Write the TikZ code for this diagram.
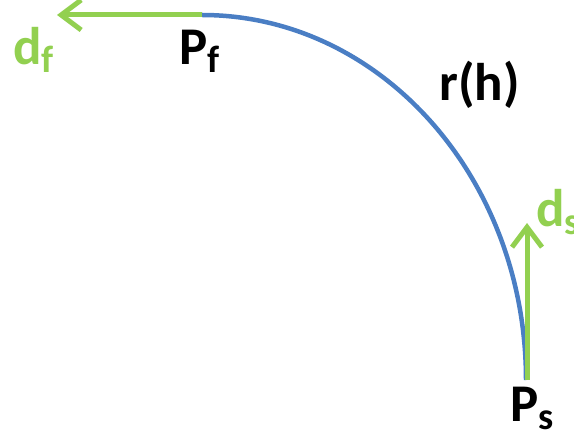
\documentclass[tikz,border=0pt]{standalone}
\usepackage{fontspec}
\setmainfont{Carlito}
\usetikzlibrary{arrows.meta}
\definecolor{arcblue}{HTML}{4A7EC4}
\definecolor{dirgreen}{HTML}{92D050}
\newcommand{\lowsub}[1]{\raisebox{-8bp}{\fontsize{38bp}{42bp}\selectfont #1}}

\begin{document}
\begin{tikzpicture}[x=1bp,y=-1bp]
\tikzset{
  pathline/.style={arcblue,line width=4.5bp},
  dirarrow/.style={-{Straight Barb[length=20bp,width=30bp,line width=5bp]},dirgreen,line width=5bp},
  lbl/.style={anchor=base west,inner sep=0pt,font=\fontsize{53bp}{58bp}\selectfont\bfseries}
}
\useasboundingbox (0,0) rectangle (574,441);
\coordinate (p_s) at (526,380);
\coordinate (p_f) at (202,15);
\coordinate (d_f_tip) at (57,15);
\coordinate (d_s_tip) at (527,223);
\node[lbl,text=dirgreen] (l_df) at (13,65) {d\lowsub{f}};
\node[lbl] (l_pf) at (179,65) {P\lowsub{f}};
\node[lbl] (l_rh) at (439,101) {r(h)};
\node[lbl,text=dirgreen] (l_ds) at (536,227) {d\lowsub{s}};
\node[lbl] (l_ps) at (510,421) {P\lowsub{s}};
\draw[pathline] (p_s) arc[start angle=0,end angle=-90,x radius=324,y radius=365];
\draw[dirarrow] (p_f) -- (d_f_tip);
\draw[dirarrow] ([xshift=1bp]p_s) -- (d_s_tip);
\end{tikzpicture}
\end{document}
